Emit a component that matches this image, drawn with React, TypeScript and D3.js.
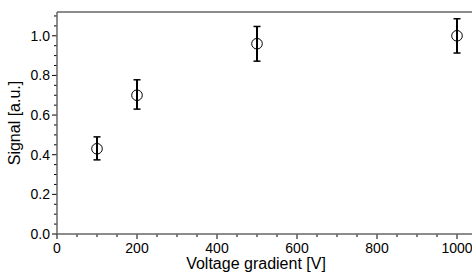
import React, { useRef, useEffect } from "react";
import * as d3 from "d3";

const voltages = [100, 200, 500, 1000];
const signals = [0.43, 0.7, 0.96, 1.0];
const errLow = [0.374, 0.63, 0.872, 0.913];
const errHigh = [0.49, 0.778, 1.047, 1.086];
const xTicks = [0, 200, 400, 600, 800, 1000];
const yTicks = [0, 0.2, 0.4, 0.6, 0.8, 1.0];

const width = 472;
const height = 273;
const margin = { top: 12, right: 0, bottom: 39, left: 57 };

const App = () => {
    const svgRef = useRef<SVGSVGElement>(null);

    useEffect(() => {
        const svg = d3.select(svgRef.current);
        svg.selectAll("*").remove();

        const x = d3
            .scaleLinear()
            .domain([0, 1037.5])
            .range([margin.left, width - margin.right]);
        const y = d3
            .scaleLinear()
            .domain([0, 1.12])
            .range([height - margin.bottom, margin.top]);

        const font = "Liberation Sans, Arial, sans-serif";
        const axisColor = "#666";

        // minor ticks
        const g = svg.append("g");
        d3.range(0, 1037.5, 50).forEach((v) => {
            const major = v % 200 === 0;
            g.append("line")
                .attr("x1", x(v))
                .attr("x2", x(v))
                .attr("y1", y(0))
                .attr("y2", y(0) + (major ? 5 : 3))
                .attr("stroke", "#000")
                .attr("stroke-width", 1);
        });
        d3.range(0, 1.12, 0.05).forEach((v) => {
            const major = Math.abs(v * 5 - Math.round(v * 5)) < 1e-6;
            g.append("line")
                .attr("x1", x(0))
                .attr("x2", x(0) - (major ? 5 : 3))
                .attr("y1", y(v))
                .attr("y2", y(v))
                .attr("stroke", "#000")
                .attr("stroke-width", 1);
        });

        // frame lines
        svg.append("line")
            .attr("x1", x(0))
            .attr("x2", width)
            .attr("y1", y(0))
            .attr("y2", y(0))
            .attr("stroke", axisColor)
            .attr("stroke-width", 1.5);
        svg.append("line")
            .attr("x1", x(0))
            .attr("x2", width)
            .attr("y1", y(1.12))
            .attr("y2", y(1.12))
            .attr("stroke", axisColor)
            .attr("stroke-width", 1.5);
        svg.append("line")
            .attr("x1", x(0))
            .attr("x2", x(0))
            .attr("y1", y(0))
            .attr("y2", y(1.12))
            .attr("stroke", axisColor)
            .attr("stroke-width", 1.5);

        // tick labels
        svg.selectAll(".xt")
            .data(xTicks)
            .enter()
            .append("text")
            .attr("x", (d) => x(d))
            .attr("y", y(0) + 19)
            .attr("text-anchor", "middle")
            .style("font-family", font)
            .style("font-size", "14px")
            .text((d) => d);
        svg.selectAll(".yt")
            .data(yTicks)
            .enter()
            .append("text")
            .attr("x", x(0) - 7)
            .attr("y", (d) => y(d) + 5)
            .attr("text-anchor", "end")
            .style("font-family", font)
            .style("font-size", "14px")
            .text((d) => d.toFixed(1));

        // axis titles
        svg.append("text")
            .attr("x", 256)
            .attr("y", 269)
            .attr("text-anchor", "middle")
            .style("font-family", font)
            .style("font-size", "16px")
            .text("Voltage gradient [V]");
        svg.append("text")
            .attr("transform", `translate(20,${(y(0) + y(1.12)) / 2}) rotate(-90)`)
            .attr("text-anchor", "middle")
            .style("font-family", font)
            .style("font-size", "16px")
            .text("Signal [a.u.]");

        // error bars and points
        const pts = svg
            .selectAll(".pt")
            .data(voltages)
            .enter()
            .append("g");
        pts.append("line")
            .attr("x1", (d) => x(d))
            .attr("x2", (d) => x(d))
            .attr("y1", (d, i) => y(errLow[i]))
            .attr("y2", (d, i) => y(errHigh[i]))
            .attr("stroke", "#000")
            .attr("stroke-width", 2);
        [errLow, errHigh].forEach((arr) => {
            pts.append("line")
                .attr("x1", (d) => x(d) - 3.5)
                .attr("x2", (d) => x(d) + 3.5)
                .attr("y1", (d, i) => y(arr[i]))
                .attr("y2", (d, i) => y(arr[i]))
                .attr("stroke", "#000")
                .attr("stroke-width", 1.5);
        });
        pts.append("circle")
            .attr("cx", (d) => x(d))
            .attr("cy", (d, i) => y(signals[i]))
            .attr("r", 5.3)
            .attr("fill", "none")
            .attr("stroke", "#000")
            .attr("stroke-width", 1);
    });

    return (
        <svg
            ref={svgRef}
            width={width}
            height={height}
            style={{ position: "absolute", left: 0, top: 0, background: "#fff" }}
        ></svg>
    );
};

export default App;
